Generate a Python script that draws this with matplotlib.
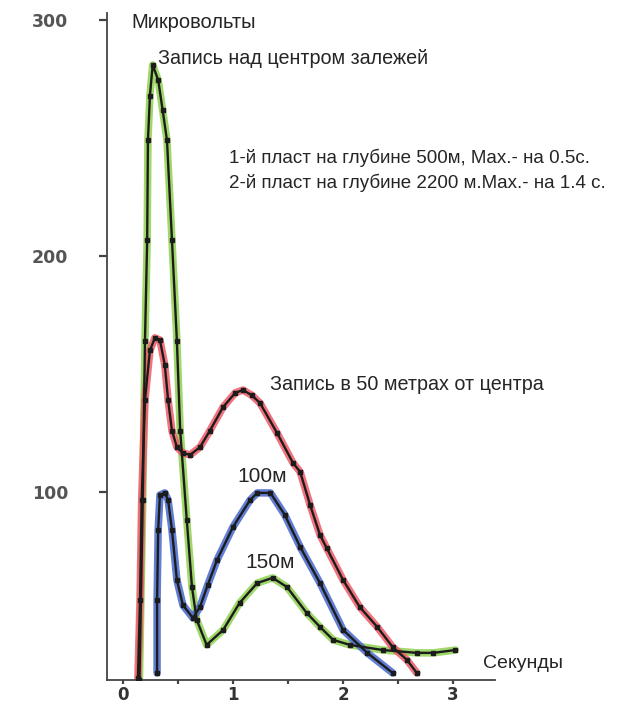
import matplotlib
matplotlib.use("Agg")
import matplotlib.pyplot as plt

# record over the centre of the deposit (green)
t_center = [0.15, 0.18, 0.20, 0.22, 0.227, 0.245, 0.27, 0.32, 0.36, 0.40, 0.445, 0.49,
            0.52, 0.58, 0.627, 0.67, 0.76, 0.91, 1.06, 1.22, 1.36, 1.49, 1.67, 1.79,
            1.91, 2.06, 2.36, 2.67, 2.82, 3.02]
u_center = [20.5, 96.6, 164, 206.8, 249, 268, 281, 274.6, 262, 249, 207, 164,
            126, 88, 59.7, 45.8, 35.2, 41.5, 53, 61.4, 63.6, 59.7, 48.7, 42.8,
            37.3, 35.2, 33, 31.8, 31.8, 33]

# record 50 m from the centre (red)
t_50 = [0.136, 0.155, 0.17, 0.20, 0.245, 0.29, 0.336, 0.38, 0.41, 0.445, 0.49, 0.545,
        0.61, 0.70, 0.79, 0.91, 1.02, 1.09, 1.17, 1.245, 1.40, 1.545, 1.61, 1.70,
        1.79, 1.85, 2.0, 2.15, 2.31, 2.45, 2.58, 2.67]
u_50 = [21.2, 54, 96.6, 139, 160, 165.3, 164.4, 153.8, 139, 126, 119, 116.5,
        115.7, 119, 126, 136, 142, 143.2, 141, 137.7, 125, 112.3, 108.5, 94.5,
        81.8, 76.3, 62.7, 51.3, 42.8, 34.3, 28.8, 23.3]

# record 100 m from the centre (blue)
t_100 = [0.31, 0.31, 0.32, 0.336, 0.38, 0.41, 0.445, 0.49, 0.545, 0.636, 0.70, 0.77,
         0.855, 1.0, 1.155, 1.22, 1.34, 1.47, 1.61, 1.79, 2.0, 2.22, 2.45]
u_100 = [23.3, 54, 84, 98.7, 99.6, 96.6, 84, 62.7, 52, 46.6, 51.3, 60.6,
         71.2, 85.2, 96.6, 99.6, 99.6, 90.3, 76.7, 61.4, 41.5, 31.8, 23.3]

series = [
    (t_center, u_center, "#8fd150"),
    (t_50, u_50, "#ee5a66"),
    (t_100, u_100, "#4667cc"),
]

y_ticks = [100, 200, 300]
x_ticks = [0, 0.5, 1, 1.5, 2, 2.5, 3]
x_labels = ["0", "", "1", "", "2", "", "3"]

plt.rcParams["font.family"] = ["Liberation Sans", "DejaVu Sans"]

W, H = 626, 704
fig = plt.figure(figsize=(W / 100, H / 100), dpi=100)
ax = fig.add_axes([107 / W, 1 - 680 / H, (495 - 107) / W, (680 - 13) / H])


def at(x, y):
    return x / W, 1 - y / H


for t, u, c in series:
    ax.plot(t, u, color=c, lw=5.4, alpha=0.85, solid_capstyle="round",
            solid_joinstyle="round", zorder=2)
for t, u, c in series:
    ax.plot(t, u, color="#1c1c1c", lw=1.7, marker="s", ms=3.4, zorder=3)

ax.set_xlim(-0.145, 3.38)
ax.set_ylim(20.3, 303)

for side in ("top", "right"):
    ax.spines[side].set_visible(False)
for side in ("left", "bottom"):
    ax.spines[side].set_color("#444444")
    ax.spines[side].set_linewidth(1.3)

ax.set_yticks(y_ticks)
ax.set_yticklabels([str(v) for v in y_ticks], fontweight="bold", fontsize=12.5,
                   color="#555555", family="DejaVu Sans")
ax.tick_params(axis="y", direction="out", length=6, width=1.6, color="#444444", pad=22)

ax.set_xticks(x_ticks)
ax.set_xticklabels(x_labels, fontweight="bold", fontsize=12, color="#333333",
                   family="DejaVu Sans")
ax.tick_params(axis="x", direction="out", length=3, width=1.6, color="#444444", pad=1)

txt = dict(color="#252525", va="center", ha="left")
fig.text(*at(131, 22), "Микровольты", fontsize=14.5, **txt)
fig.text(*at(158, 58), "Запись над центром залежей", fontsize=14.2, **txt)
fig.text(*at(229, 158), "1-й пласт на глубине 500м, Max.- на 0.5с.", fontsize=13.5, **txt)
fig.text(*at(229, 183), "2-й пласт на глубине 2200 м.Max.- на 1.4 с.", fontsize=13.5, **txt)
fig.text(*at(270, 384), "Запись в 50 метрах от центра", fontsize=14.2, **txt)
fig.text(*at(237, 477), "100м", fontsize=15, **txt)
fig.text(*at(245, 563), "150м", fontsize=15, **txt)
fig.text(*at(483, 663), "Секунды", fontsize=14, **txt)

fig.savefig("out.png", dpi=100)
